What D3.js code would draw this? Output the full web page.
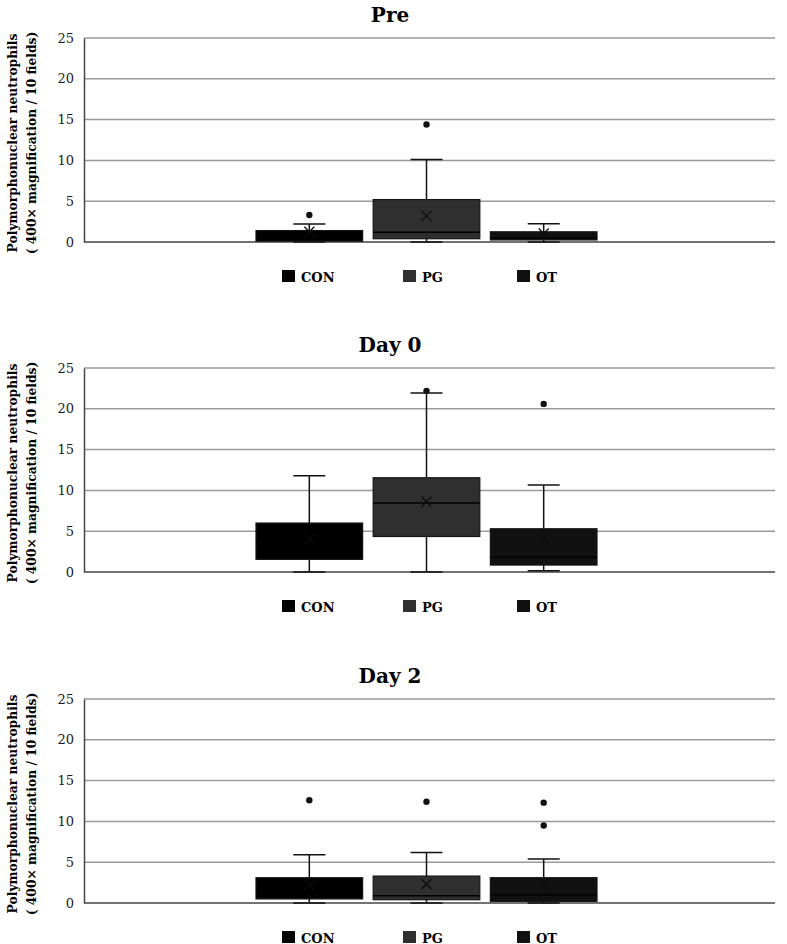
<!DOCTYPE html>
<html>
<head>
<meta charset="utf-8">
<script src="https://cdn.jsdelivr.net/npm/d3@7"></script>
<style>
  body { margin: 0; background: #fff; }
  text { font-family: "DejaVu Serif", serif; }
</style>
</head>
<body>
<svg id="chart" width="787" height="944"></svg>
<script>
// box plot statistics, one row per panel, one value per series
const panels = ["Pre", "Day 0", "Day 2"];
const series = ["CON", "PG", "OT"];
const yTicks = [0, 5, 10, 15, 20, 25];

const lowWhisker = [[0, 0, 0], [0, 0, 0.15], [0, 0, 0]];
const q1 = [[0.1, 0.4, 0.25], [1.55, 4.35, 0.85], [0.5, 0.4, 0.2]];
const median = [[0.5, 1.2, 0.5], [3.5, 8.45, 1.8], [1.5, 0.9, 1.0]];
const q3 = [[1.4, 5.2, 1.25], [6.0, 11.55, 5.3], [3.1, 3.3, 3.1]];
const highWhisker = [[2.2, 10.1, 2.25], [11.8, 21.95, 10.65], [5.9, 6.2, 5.4]];
const means = [[1.25, 3.2, 1.05], [4.0, 8.6, 4.0], [2.2, 2.3, 2.3]];
const outliers = [
  [[3.3], [14.4], []],
  [[], [22.2], [20.6]],
  [[12.6], [12.4], [12.3, 9.5]]
];

const fills = ["#000000", "#2f2f2f", "#111111"];

const svg = d3.select("#chart");
const left = 84, right = 775, plotH = 204;
const panelTops = [38, 368, 699];

// single category spanning the plot, series grouped in the middle
const x = d3.scaleBand().domain(series).range([256, 597]).paddingInner(0.09).paddingOuter(0);
const y = d3.scaleLinear().domain([0, 25]).range([plotH, 0]);

panels.forEach((name, p) => {
  const g = svg.append("g").attr("transform", `translate(0,${panelTops[p]})`);

  g.append("text")
    .attr("x", 390).attr("y", -16)
    .attr("text-anchor", "middle")
    .attr("font-size", 20).attr("font-weight", "bold")
    .text(name);

  // gridlines
  g.append("g").selectAll("line")
    .data(yTicks.filter(t => t > 0))
    .join("line")
    .attr("x1", left).attr("x2", right)
    .attr("y1", d => y(d)).attr("y2", d => y(d))
    .attr("stroke", "#9a9a9a").attr("stroke-width", 1.5);

  const axis = g.append("g")
    .attr("transform", `translate(${left},0)`)
    .call(d3.axisLeft(y).tickValues(yTicks).tickSize(0).tickPadding(10));
  axis.select(".domain").attr("stroke", "#444").attr("stroke-width", 1.5);
  axis.selectAll("text")
    .attr("font-family", "DejaVu Serif").attr("font-size", 13).attr("fill", "#1a1a1a");

  g.append("line")
    .attr("x1", left).attr("x2", right)
    .attr("y1", y(0)).attr("y2", y(0))
    .attr("stroke", "#444").attr("stroke-width", 1.5);

  // y title
  const yt = g.append("text")
    .attr("transform", `translate(0,${plotH / 2 + 3}) rotate(-90)`)
    .attr("text-anchor", "middle")
    .attr("font-size", 12.3).attr("font-weight", "bold");
  yt.append("tspan").attr("x", 0).attr("y", 17).text("Polymorphonuclear neutrophils");
  yt.append("tspan").attr("x", 0).attr("y", 36).text("( 400\u00d7 magnification / 10 fields)");

  const bw = x.bandwidth();
  const capW = 32;

  series.forEach((s, i) => {
    const cx = x(s) + bw / 2;
    const sg = g.append("g");

    // whiskers
    sg.append("line")
      .attr("x1", cx).attr("x2", cx)
      .attr("y1", y(highWhisker[p][i])).attr("y2", y(lowWhisker[p][i]))
      .attr("stroke", "#111").attr("stroke-width", 1.5);
    [highWhisker[p][i], lowWhisker[p][i]].forEach(v => {
      sg.append("line")
        .attr("x1", cx - capW / 2).attr("x2", cx + capW / 2)
        .attr("y1", y(v)).attr("y2", y(v))
        .attr("stroke", "#111").attr("stroke-width", 1.5);
    });

    // box
    sg.append("rect")
      .attr("x", x(s)).attr("width", bw)
      .attr("y", y(q3[p][i]))
      .attr("height", y(q1[p][i]) - y(q3[p][i]))
      .attr("fill", fills[i])
      .attr("stroke", "#161616").attr("stroke-width", 1.2);

    sg.append("line")
      .attr("x1", x(s)).attr("x2", x(s) + bw)
      .attr("y1", y(median[p][i])).attr("y2", y(median[p][i]))
      .attr("stroke", "#000").attr("stroke-width", 1.5);

    // mean marker
    const my = y(means[p][i]), m = 5;
    sg.append("path")
      .attr("d", `M${cx - m},${my - m}L${cx + m},${my + m}M${cx - m},${my + m}L${cx + m},${my - m}`)
      .attr("stroke", "#0d0d0d").attr("stroke-width", 1.3).attr("fill", "none");

    sg.selectAll("circle.out")
      .data(outliers[p][i])
      .join("circle")
      .attr("class", "out")
      .attr("cx", cx).attr("cy", d => y(d))
      .attr("r", 3.2).attr("fill", "#111");
  });

  // legend
  const lg = g.append("g").attr("transform", `translate(0,${plotH + 28})`);
  const legendX = [282, 403, 517];
  series.forEach((s, i) => {
    lg.append("rect")
      .attr("x", legendX[i]).attr("y", 0)
      .attr("width", 13).attr("height", 12)
      .attr("fill", fills[i]);
    lg.append("text")
      .attr("x", legendX[i] + 19).attr("y", 11.5)
      .attr("font-size", 13).attr("font-weight", "bold")
      .text(s);
  });
});
</script>
</body>
</html>
